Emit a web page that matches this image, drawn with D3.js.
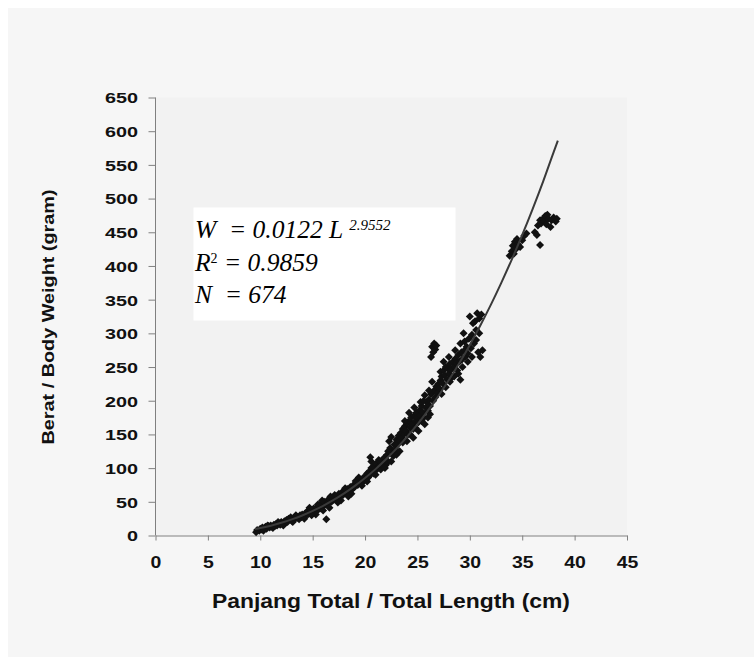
<!DOCTYPE html>
<html>
<head>
<meta charset="utf-8">
<script src="https://cdn.jsdelivr.net/npm/d3@7"></script>
<style>
  body { margin: 0; background: #fff; }
  .axis path, .axis line { stroke: #808080; }
</style>
</head>
<body>
<div class="chart"></div>
<script>
// Data
const xTicks = [0, 5, 10, 15, 20, 25, 30, 35, 40, 45];
const yTicks = [0, 50, 100, 150, 200, 250, 300, 350, 400, 450, 500, 550, 600, 650];

const lengthCm = [
  9.6, 9.7, 9.9, 10.0, 10.1, 10.2, 10.4, 10.5, 10.6, 10.8, 10.9, 11.0, 11.1, 11.3, 11.4, 11.5, 11.6, 11.8, 11.9, 12.0,
  12.1, 12.3, 12.4, 12.5, 12.6, 12.8, 12.9, 13.0, 13.2, 13.3, 13.5, 13.6, 13.8, 13.9,
  14.0, 14.1, 14.3, 14.4, 14.5, 14.6, 14.8, 14.9, 15.0, 15.1, 15.2, 15.4, 15.5, 15.6, 15.7, 15.8, 16.0, 16.1, 16.2, 16.3,
  16.4, 16.5, 16.6, 16.8, 16.9, 17.0, 17.2, 17.3, 17.5, 17.6, 17.8, 17.9, 18.0, 18.2, 18.3, 18.5, 18.6, 18.8, 18.9, 19.0,
  19.2, 19.3, 19.5, 19.6, 19.8, 19.9,
  20.0, 20.1, 20.2, 20.3, 20.4, 20.5, 20.5, 20.6, 20.7, 20.8, 20.9, 21.0, 21.1, 21.2, 21.3, 21.4, 21.5, 21.6, 21.7, 21.8,
  22.0, 22.1, 22.2, 22.3, 22.4, 22.5, 22.6, 22.8, 22.9, 23.0,
  23.1, 23.2, 23.3, 23.4, 23.5, 23.6, 23.7, 23.8, 23.9, 24.0, 24.1, 24.2, 24.3, 24.4, 24.5, 24.6, 24.7, 24.8, 24.9, 25.0,
  25.1, 25.2, 25.3, 25.4, 25.5, 25.6, 25.7, 25.8, 25.9, 26.0, 26.1, 26.2, 26.3, 26.3, 26.4, 26.5, 26.6, 26.7, 26.8, 26.5,
  26.6, 26.7, 26.8, 26.9,
  27.0, 27.1, 27.2, 27.2, 27.3, 27.4, 27.5, 27.6, 27.7, 27.8, 27.9, 28.0, 28.1, 28.2, 28.3, 28.4, 28.5, 28.6, 28.7, 28.8,
  28.9, 29.0, 29.1, 29.2, 29.3, 29.4, 29.5, 29.5, 29.6, 29.7, 29.8, 29.9, 30.0, 30.1, 30.2, 30.3, 30.4, 30.5, 30.6, 30.7,
  30.8, 30.9, 31.0, 31.1, 31.2,
  33.8, 34.0, 34.1, 34.2, 34.3, 34.4, 34.5, 34.6, 34.8, 35.0, 35.2, 35.4,
  36.2, 36.4, 36.5, 36.7, 36.7, 36.8, 37.0, 37.1, 37.2, 37.3, 37.4, 37.5, 37.7, 37.8, 38.0, 38.2, 38.3,
  10.3, 10.7, 11.2, 11.7, 12.2, 12.7, 13.1, 13.4, 13.7,
  14.2, 14.7, 15.3, 15.9, 16.6, 17.1, 17.7, 18.1, 18.7, 19.1, 19.7, 14.9, 15.5, 16.0, 16.7, 17.4, 18.4, 19.4,
  20.2, 20.6, 21.0, 21.4, 21.9, 22.2, 22.7, 23.0, 22.5,
  23.3, 23.6, 24.0, 24.3, 24.6, 24.8, 25.1, 25.4, 25.7, 26.0, 26.2, 24.2, 24.7, 25.3, 25.6, 26.1, 23.8, 26.4,
  27.3, 27.7, 28.1, 28.5, 28.9, 29.3, 29.8, 27.5, 28.0, 28.6, 29.1, 30.2, 30.6, 30.9
];
const weightG = [
  5, 8, 7, 10, 9, 12, 11, 13, 10, 14, 12, 15, 13, 16, 14, 17, 15, 18, 16, 20,
  17, 21, 19, 23, 20, 24, 27, 22, 26, 24, 28, 26, 30, 27,
  31, 28, 33, 30, 36, 32, 35, 38, 33, 40, 36, 42, 38, 45, 40, 47, 43, 50, 46, 24,
  52, 48, 54, 50, 56, 53, 58, 55, 62, 57, 64, 60, 66, 63, 69, 66, 72, 69, 75, 72,
  78, 75, 82, 78, 85, 81,
  88, 84, 92, 86, 95, 116, 90, 110, 98, 92, 104, 96, 107, 100, 112, 103, 98, 108, 102, 115,
  105, 120, 110, 140, 130, 146, 124, 135, 128, 142,
  135, 148, 140, 152, 145, 158, 150, 162, 155, 166, 150, 170, 160, 175, 165, 158, 178, 170, 182, 175,
  168, 186, 178, 192, 183, 175, 208, 190, 198, 185, 202, 192, 210, 265, 280, 272, 285, 276, 282, 200,
  215, 205, 221, 212,
  225, 218, 243, 230, 236, 226, 245, 238, 250, 232, 248, 240, 255, 246, 235, 258, 250, 262, 256, 245,
  268, 258, 231, 272, 262, 300, 288, 275, 266, 280, 270, 292, 325, 278, 298, 315, 285, 318, 290, 330,
  272, 322, 265, 328, 275,
  415, 422, 430, 418, 436, 425, 440, 432, 428, 438, 445, 448,
  450, 446, 460, 431, 468, 463, 470, 466, 474, 462, 476, 470, 458, 468, 472, 466, 470,
  7, 15, 11, 20, 15, 25, 20, 30, 24,
  25, 41, 31, 52, 41, 60, 52, 70, 62, 81, 74, 30, 46, 37, 58, 49, 58, 86,
  80, 100, 90, 110, 100, 125, 118, 120, 110,
  125, 138, 140, 150, 145, 160, 155, 170, 165, 175, 180, 182, 190, 198, 200, 215, 170, 228,
  210, 220, 228, 236, 240, 250, 258, 258, 265, 275, 285, 265, 305, 300
];

// fitted curve W = 0.0122 L^2.9552, values as drawn
const curveL = [9.5, 10, 11, 12, 13, 14, 15, 16, 17, 18, 19, 20, 21, 22, 23, 24, 25, 26, 27, 28, 29, 30, 31, 32, 33, 34, 35, 36, 37, 38, 38.4];
const curveW = [9.5, 11.0, 14.6, 18.9, 23.9, 29.7, 36.5, 44.1, 52.8, 62.5, 73.3, 85.3, 98.5, 113.1, 128.9, 146.3, 164.9, 185.3, 207.1, 230.7, 255.9, 282.8, 311.7, 342.2, 374.9, 409.4, 446.0, 484.8, 525.6, 569.0, 586.0];

const points = lengthCm.map((d, i) => ({L: d, W: weightG[i]}));
const curve = curveL.map((d, i) => ({L: d, W: curveW[i]}));

// Margin convention
const margin = {top: 97.5, right: 127, bottom: 121.5, left: 155.5};
const width = 754 - margin.left - margin.right;
const height = 657 - margin.top - margin.bottom;

const svgRoot = d3.select('.chart')
  .append('svg')
  .attr('width', 754)
  .attr('height', 657);

// outer panel
svgRoot.append('rect')
  .attr('x', 8).attr('y', 8)
  .attr('width', 746).attr('height', 649)
  .style('fill', '#f6f6f6');

const svg = svgRoot.append('g')
  .attr('transform', `translate(${margin.left}, ${margin.top})`);

// Scales
const xScale = d3.scaleLinear([0, 45], [0, width]);
const yScale = d3.scaleLinear([0, 650], [height, 0]);

// plot area
svg.append('rect')
  .attr('width', width).attr('height', height)
  .style('fill', '#f2f2f2');

// Equation box
const box = svg.append('g').attr('class', 'equation');
box.append('rect')
  .attr('x', 38).attr('y', 110)
  .attr('width', 262).attr('height', 113)
  .style('fill', '#ffffff');

const eq = box.append('text')
  .attr('x', 39.5).attr('y', 140.8)
  .style('font-family', '"Liberation Serif", "Times New Roman", serif')
  .style('font-style', 'italic')
  .style('font-size', '25.5px')
  .style('fill', '#000');
eq.append('tspan').text('W\u00a0 = 0.0122 L ');
eq.append('tspan').text('2.9552')
  .attr('dy', -8).style('font-size', '15px');

const r2 = box.append('text')
  .attr('x', 39.5).attr('y', 173.2)
  .style('font-family', '"Liberation Serif", "Times New Roman", serif')
  .style('font-style', 'italic')
  .style('font-size', '25.5px')
  .style('fill', '#000');
r2.append('tspan').text('R');
r2.append('tspan').text('2').attr('dy', -8).style('font-size', '14px').style('font-style', 'normal');
r2.append('tspan').text(' = 0.9859').attr('dy', 8);

box.append('text')
  .attr('x', 39.5).attr('y', 205.6)
  .style('font-family', '"Liberation Serif", "Times New Roman", serif')
  .style('font-style', 'italic')
  .style('font-size', '25.5px')
  .style('fill', '#000')
  .text('N\u00a0 = 674');

// Axes
const xAxis = d3.axisBottom(xScale)
  .tickValues(xTicks)
  .tickSizeInner(5)
  .tickSizeOuter(0)
  .tickFormat(d => d);

const xAxisDraw = svg.append('g')
  .attr('class', 'x axis')
  .attr('transform', `translate(0, ${height})`)
  .call(xAxis);

xAxisDraw.selectAll('text')
  .attr('y', 0)
  .attr('dy', 32.5)
  .attr('textLength', d => String(d).length * 10.8)
  .attr('lengthAdjust', 'spacingAndGlyphs')
  .style('font-family', '"Liberation Sans", Arial, sans-serif')
  .style('font-weight', 'bold')
  .style('font-size', '16px')
  .style('fill', '#111');

const yAxis = d3.axisLeft(yScale)
  .tickValues(yTicks)
  .tickSizeInner(7)
  .tickSizeOuter(0)
  .tickFormat(d => d);

const yAxisDraw = svg.append('g')
  .attr('class', 'y axis')
  .call(yAxis);

yAxisDraw.selectAll('text')
  .attr('x', -17.5)
  .attr('dy', '0.36em')
  .attr('textLength', d => String(d).length * 11)
  .attr('lengthAdjust', 'spacingAndGlyphs')
  .style('font-family', '"Liberation Sans", Arial, sans-serif')
  .style('font-weight', 'bold')
  .style('font-size', '15px')
  .style('fill', '#111');

yAxisDraw.select('.domain').attr('d', `M0,${height}V0`);

// Axis titles
svg.append('text')
  .attr('x', 391 - margin.left)
  .attr('y', 608.3 - margin.top)
  .attr('text-anchor', 'middle')
  .attr('textLength', 358)
  .attr('lengthAdjust', 'spacingAndGlyphs')
  .style('font-family', '"Liberation Sans", Arial, sans-serif')
  .style('font-weight', 'bold')
  .style('font-size', '19.5px')
  .style('fill', '#111')
  .text('Panjang Total / Total Length (cm)');

svg.append('text')
  .attr('transform', `translate(${53.5 - margin.left}, ${317 - margin.top}) rotate(-90)`)
  .attr('text-anchor', 'middle')
  .attr('textLength', 255)
  .attr('lengthAdjust', 'spacingAndGlyphs')
  .style('font-family', '"Liberation Sans", Arial, sans-serif')
  .style('font-weight', 'bold')
  .style('font-size', '16px')
  .style('fill', '#111')
  .text('Berat / Body Weight (gram)');

// Points (diamonds)
const diamond = d3.symbol().type(d3.symbolSquare).size(32);
svg.append('g')
  .selectAll('.dot')
  .data(points)
  .enter()
  .append('path')
  .attr('class', 'dot')
  .attr('d', diamond)
  .attr('transform', d => `translate(${xScale(d.L)}, ${yScale(d.W)}) rotate(45)`)
  .style('fill', '#111');

// Trend line
const line = d3.line()
  .x(d => xScale(d.L))
  .y(d => yScale(d.W))
  .curve(d3.curveMonotoneX);

svg.append('path')
  .datum(curve)
  .attr('d', line)
  .style('fill', 'none')
  .style('stroke', '#3a3a3a')
  .style('stroke-width', 2);
</script>
</body>
</html>
